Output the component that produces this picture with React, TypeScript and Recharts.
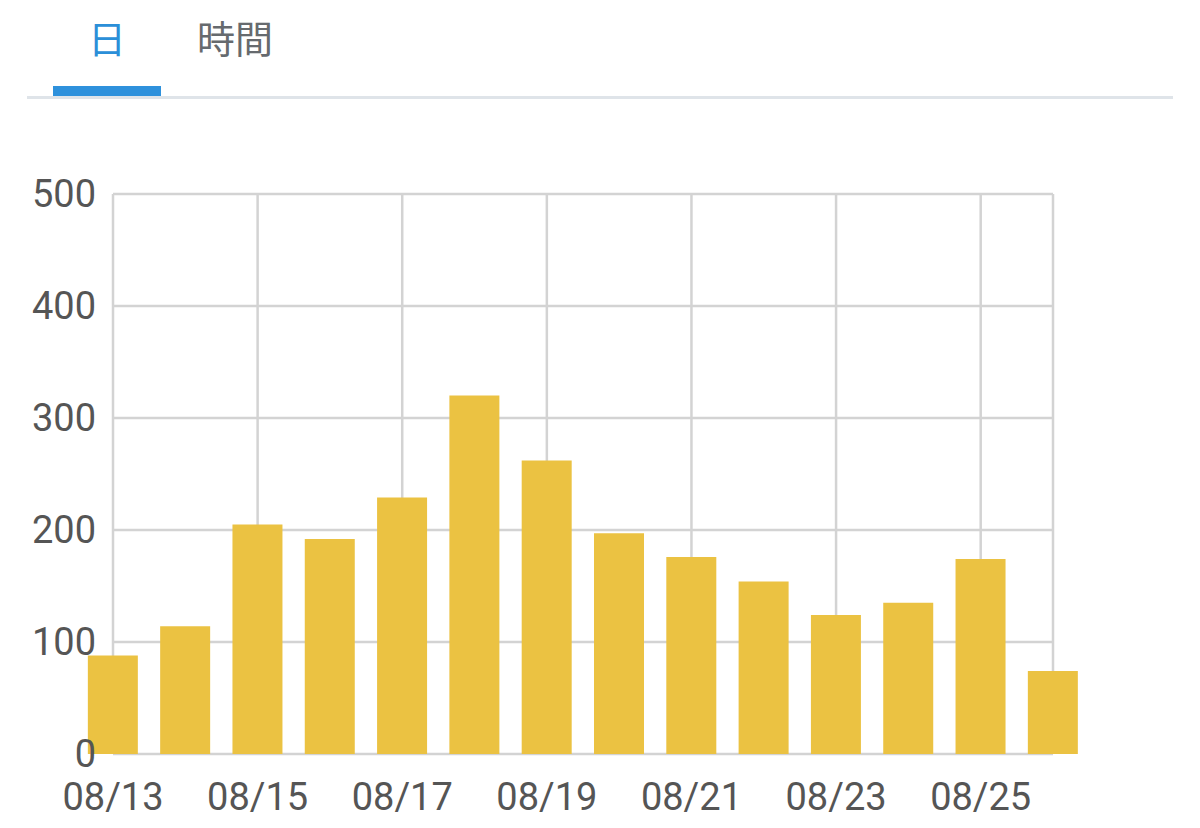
import React from 'react';
import { BarChart, Bar, XAxis, YAxis, CartesianGrid } from 'recharts';

const dates = ['08/13', '08/14', '08/15', '08/16', '08/17', '08/18', '08/19', '08/20', '08/21', '08/22', '08/23', '08/24', '08/25', '08/26'];
const values = [88, 114, 205, 192, 229, 320, 262, 197, 176, 154, 124, 135, 174, 74];
const xTicks = [0, 2, 4, 6, 8, 10, 12, 13];
const yTicks = [0, 100, 200, 300, 400, 500];
const tabs = ['日', '時間'];

const data = values.map((v, i) => ({ idx: i, date: dates[i], value: v }));

const GRID = '#d3d3d3';
const FONT = 'Roboto, "Noto Sans CJK JP", sans-serif';

export default function App() {
  return (
    <div style={{ position: 'absolute', left: 0, top: 0, width: 1200, height: 828, background: '#fff', fontFamily: FONT }}>
      <div style={{ position: 'absolute', left: 53, top: 12, width: 108, textAlign: 'center', fontSize: 38, lineHeight: '56px', color: '#2b8fd8' }}>{tabs[0]}</div>
      <div style={{ position: 'absolute', left: 180, top: 12, width: 110, textAlign: 'center', fontSize: 38, lineHeight: '56px', color: '#666a6e' }}>{tabs[1]}</div>
      <div style={{ position: 'absolute', left: 27, top: 96, width: 1146, height: 3, background: '#dfe4e9' }} />
      <div style={{ position: 'absolute', left: 53, top: 86, width: 108, height: 10, background: '#2e91dc' }} />
      <div style={{ position: 'absolute', left: 0, top: 0 }}>
        <BarChart width={1200} height={828} data={data} margin={{ top: 194, right: 147, bottom: 14, left: 0 }}>
          <CartesianGrid stroke={GRID} strokeWidth={2.5} />
          <XAxis
            dataKey="idx"
            type="number"
            domain={[0, 13]}
            ticks={xTicks}
            tickFormatter={(i: number) => (i % 2 === 0 ? dates[i] : '')}
            axisLine={false}
            tickLine={false}
            tickSize={0}
            tickMargin={29}
            height={60}
            interval={0}
            tick={{ fill: '#555', fontSize: 38, fontFamily: FONT }}
          />
          <YAxis
            type="number"
            domain={[0, 500]}
            ticks={yTicks}
            axisLine={false}
            tickLine={false}
            tickSize={0}
            tickMargin={17}
            width={113}
            interval={0}
            tick={{ fill: '#555', fontSize: 38, fontFamily: FONT }}
          />
          <Bar dataKey="value" fill="#ebc242" barSize={50} isAnimationActive={false} />
        </BarChart>
      </div>
    </div>
  );
}
